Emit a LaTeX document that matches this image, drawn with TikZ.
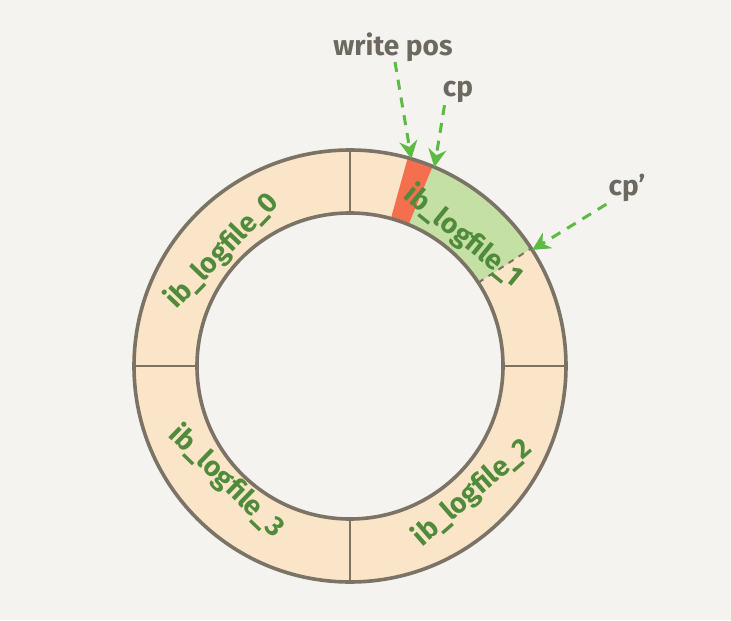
\documentclass[tikz,border=0pt]{standalone}
\usepackage{fontspec}
\setmainfont{Fira Sans}
\usetikzlibrary{arrows.meta}
\definecolor{bgcol}{HTML}{F4F3EF}
\definecolor{ringcol}{HTML}{FBE5C8}
\definecolor{edgecol}{HTML}{7B7366}
\definecolor{donecol}{HTML}{C5E0A5}
\definecolor{poscol}{HTML}{F36F4E}
\definecolor{filecol}{HTML}{4F8B3B}
\definecolor{ptrcol}{HTML}{5CBA45}
\definecolor{tagcol}{HTML}{6D6960}
\begin{document}
\begin{tikzpicture}[
    x=0.5pt, y=0.5pt,
    edge/.style={draw=edgecol, line width=1.8pt},
    fname/.style={text=filecol, inner sep=0pt, font=\fontsize{14}{14}\selectfont\bfseries},
    tag/.style={text=tagcol, inner sep=1pt, font=\fontsize{14}{14}\selectfont\bfseries},
    ptr/.style={draw=ptrcol, line width=1.5pt, dash pattern=on 5pt off 4pt,
      -{Stealth[length=9pt,width=9pt]}}
  ]
  \fill[bgcol] (-350,-254) rectangle (381,366);
  \useasboundingbox (-350,-254) rectangle (381,366);
  % ring and the filled parts
  \fill[ringcol, even odd rule] (0,0) circle (216) (0,0) circle (153);
  \fill[donecol] (33:216) arc (33:67.5:216) -- (67.5:153) arc (67.5:33:153) -- cycle;
  \fill[poscol] (67.5:216) arc (67.5:74.5:216) -- (74.5:153) arc (74.5:67.5:153) -- cycle;
  \foreach \a in {0,90,180,270}
    \draw[edge, line width=1pt] (\a:153) -- (\a:216);
  \draw[edge, line width=1pt, dashed] (33:153) -- (33:216);
  \draw[edge] (0,0) circle (216) (0,0) circle (153);
  % file names
  \node[fname, rotate=46] (f0) at (138:172) {ib\_logfile\_0};
  \node[fname, rotate=-39] (f1) at (49:172) {ib\_logfile\_1};
  \node[fname, rotate=41] (f2) at (-46:176) {ib\_logfile\_2};
  \node[fname, rotate=-44] (f3) at (-137:169) {ib\_logfile\_3};
  % pointers
  \coordinate (wp) at (73.5:216);
  \coordinate (cpa) at (67:216);
  \coordinate (cpb) at (32.5:216);
  \node[tag] (lwp) at (43,319) {write pos};
  \node[tag] (lcpa) at (108,274) {cp};
  \node[tag] (lcpb) at (277,178) {cp'};
  \draw[ptr] (45,304) -- (wp);
  \draw[ptr] (lcpa.south west) ++(4,0) -- (cpa);
  \draw[ptr] (lcpb.south west) -- (cpb);
\end{tikzpicture}
\end{document}
